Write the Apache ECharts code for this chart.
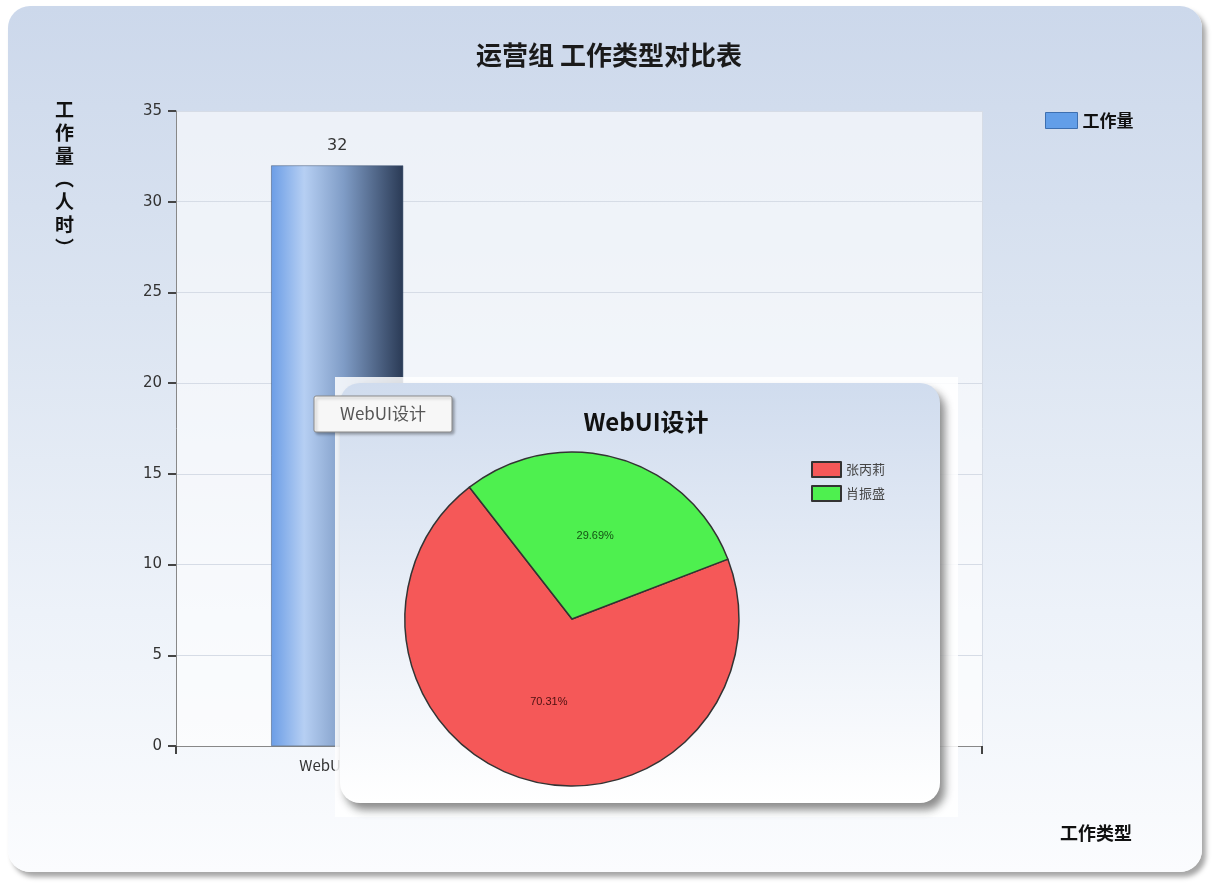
<!DOCTYPE html>
<html>
<head>
<meta charset="utf-8">
<script src="https://cdn.jsdelivr.net/npm/echarts@6/dist/echarts.min.js"></script>
<style>
html,body{margin:0;padding:0;background:#ffffff;}
#wrap{position:relative;width:1218px;height:883px;overflow:hidden;}
#panel{position:absolute;left:8px;top:6px;width:1194px;height:866px;border-radius:22px;
background:linear-gradient(to bottom,#ccd8eb 0%,#dbe4f1 35%,#edf2f9 70%,#fbfcfe 100%);
box-shadow:4px 5px 5px rgba(0,0,0,0.35);}
#chart{position:absolute;left:0;top:0;width:1218px;height:883px;}
</style>
</head>
<body>
<div id="wrap"><div id="panel"></div><div id="chart"></div></div>
<script>
// ---- data ----
const mainTitle = '运营组 工作类型对比表';
const barSeriesName = '工作量';
const categories = ['WebUI设计'];
const workValues = [32];
const yTicks = [0, 5, 10, 15, 20, 25, 30, 35];
const yAxisTitle = '工作量（人时）';
const xAxisTitle = '工作类型';
const pieTitle = 'WebUI设计';
const pieNames = ['张丙莉', '肖振盛'];
const pieValues = [22.5, 9.5];
const tooltipText = 'WebUI设计';

const chart = echarts.init(document.getElementById('chart'), null, {renderer: 'canvas'});
const CJK = '"Noto Sans CJK SC", "DejaVu Sans", sans-serif';

const vName = yAxisTitle.replace('（', '︵').replace('）', '︶').split('').join('\n');
const pieColors = ['#f55858', '#4ef04f'];
const pieLabelColors = ['#4a1010', '#145214'];

const option = {
  backgroundColor: 'transparent',
  animation: false,
  textStyle: {fontFamily: CJK},
  title: [
    {text: mainTitle, left: 'center', top: 37,
     textStyle: {fontSize: 26, fontWeight: 'bold', color: '#1a1a1a', fontFamily: CJK}},
    {text: pieTitle, left: 641, top: 405, textAlign: 'center', zlevel: 1, z: 10,
     textStyle: {fontSize: 24, fontWeight: 'bold', color: '#111', fontFamily: CJK}}
  ],
  legend: [
    {data: [barSeriesName], left: 1040, top: 107, itemWidth: 32, itemHeight: 16, icon: 'rect',
     textStyle: {fontSize: 17, fontWeight: 'bold', color: '#111', fontFamily: CJK},
     itemStyle: {color: '#629ee8', borderColor: '#3d6fb0', borderWidth: 1}},
    {data: pieNames, orient: 'vertical', left: 806, top: 456, itemWidth: 29, itemHeight: 15,
     itemGap: 7, zlevel: 1, z: 10, icon: 'rect',
     textStyle: {fontSize: 13, color: '#444', fontFamily: CJK}}
  ],
  grid: {left: 176, top: 111, right: 236, bottom: 137, show: true,
         backgroundColor: 'rgba(255,255,255,0.6)', borderWidth: 0},
  xAxis: {
    type: 'value', min: 0, max: 5, interval: 1,
    axisLine: {show: true, lineStyle: {color: '#888', width: 1}},
    axisTick: {show: true, customValues: [0, 5], length: 8, lineStyle: {color: '#444', width: 2}},
    axisLabel: {customValues: categories.map((c, i) => i + 1),
                formatter: v => categories[v - 1] || '',
                fontSize: 15, color: '#333', margin: 12, fontFamily: CJK},
    splitLine: {show: true, lineStyle: {color: '#d6dce6', width: 1}}
  },
  yAxis: {
    type: 'value', min: yTicks[0], max: yTicks[yTicks.length - 1], interval: yTicks[1] - yTicks[0],
    axisLine: {show: true, lineStyle: {color: '#888', width: 1}},
    axisTick: {show: true, inside: false, length: 8, lineStyle: {color: '#444', width: 2}},
    axisLabel: {fontSize: 15, color: '#333', margin: 14, fontFamily: '"DejaVu Sans", sans-serif'},
    splitLine: {show: true, lineStyle: {color: '#d6dce6', width: 1}}
  },
  series: [
    {
      name: barSeriesName, type: 'bar', barWidth: 132,
      data: workValues.map((v, i) => [i + 1, v]),
      itemStyle: {
        color: new echarts.graphic.LinearGradient(0, 0, 1, 0, [
          {offset: 0, color: '#6b9de6'},
          {offset: 0.25, color: '#b6cff3'},
          {offset: 0.55, color: '#7f9cc6'},
          {offset: 1, color: '#2a3a55'}
        ]),
        borderColor: '#3a5070', borderWidth: 0.5
      },
      label: {show: true, position: 'top', distance: 12, fontSize: 16, color: '#333',
              fontFamily: '"DejaVu Sans", sans-serif'}
    },
    {
      name: pieTitle, type: 'pie', zlevel: 1, z: 10,
      center: [572, 619], radius: 167, startAngle: 21, clockwise: true,
      data: pieNames.map((n, i) => ({name: n, value: pieValues[i],
                                     label: {color: pieLabelColors[i]}})),
      color: pieColors,
      itemStyle: {borderColor: '#333', borderWidth: 1.5},
      label: {show: true, position: 'inside', formatter: '{d}%', fontSize: 11,
              fontFamily: '"Liberation Sans", sans-serif'},
      labelLine: {show: false},
      emphasis: {disabled: true}
    }
  ],
  graphic: [
    {type: 'text', left: 55, top: 98, z: 5,
     style: {text: vName, font: 'bold 19px ' + CJK, fill: '#111', lineHeight: 23, align: 'center'}},
    {type: 'text', left: 1060, top: 824, z: 5,
     style: {text: xAxisTitle, font: 'bold 18px ' + CJK, fill: '#111'}},
    {type: 'rect', zlevel: 1, z: 0, shape: {x: 335, y: 377, width: 623, height: 440},
     style: {fill: 'rgba(255,255,255,0.85)'}},
    {type: 'rect', zlevel: 1, z: 1, shape: {x: 340, y: 383, width: 600, height: 420, r: 20},
     style: {
       fill: new echarts.graphic.LinearGradient(0, 0, 0, 1, [
         {offset: 0, color: '#d0dcee'},
         {offset: 0.5, color: '#e8eef7'},
         {offset: 1, color: '#ffffff'}
       ]),
       shadowBlur: 8, shadowOffsetX: 5, shadowOffsetY: 7, shadowColor: 'rgba(0,0,0,0.45)'
     }},
    {type: 'rect', zlevel: 2, z: 1, shape: {x: 314, y: 396, width: 138, height: 36, r: 2},
     style: {fill: '#f7f7f7', stroke: '#8a8a8a', lineWidth: 1,
             shadowBlur: 3, shadowOffsetX: 2, shadowOffsetY: 2, shadowColor: 'rgba(0,0,0,0.3)'}},
    {type: 'text', zlevel: 2, z: 2, x: 383, y: 414,
     style: {text: tooltipText, font: '17px ' + CJK, fill: '#555', align: 'center', verticalAlign: 'middle'}}
  ]
};
chart.setOption(option);
</script>
</body>
</html>
